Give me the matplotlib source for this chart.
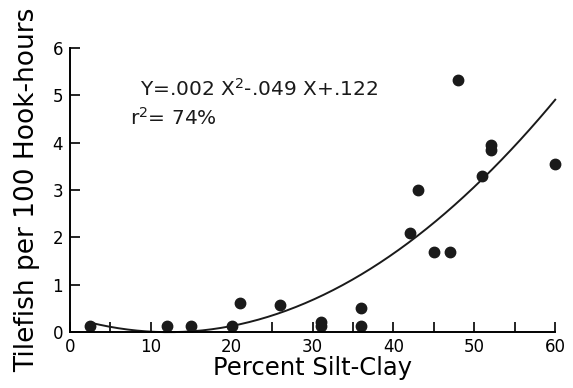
import numpy as np
from matplotlib import pyplot as plt

# percent silt-clay vs tilefish catch
silt_clay = [2.5, 12, 15, 20, 21, 26, 31, 31, 36, 36, 42, 43, 45, 47, 48, 51, 52, 52, 60]
catch = [0.12, 0.12, 0.12, 0.12, 0.62, 0.57, 0.21, 0.12, 0.5, 0.12,
         2.1, 3.0, 1.7, 1.7, 5.32, 3.3, 3.95, 3.84, 3.55]

# quadratic drawn on the figure
curve_coef = [0.00215, -0.0525, 0.32]
curve_range = [2.5, 60]

xticks = [0, 10, 20, 30, 40, 50, 60]
xticks_minor = [5, 15, 25, 35, 45, 55]
yticks = [0, 1, 2, 3, 4, 5, 6]

plt.rcParams["font.family"] = "DejaVu Sans"

fig = plt.figure(figsize=(5.73, 3.88), dpi=100)
ax = fig.add_axes([0.122, 0.144, 0.847, 0.732])

xc = np.linspace(curve_range[0], curve_range[1], 200)
ax.plot(xc, np.polyval(curve_coef, xc), color="#1a1a1a", lw=1.4, clip_on=False)
ax.plot(silt_clay, catch, "o", color="#1a1a1a", ms=7.5, clip_on=False)

ax.set_xlim(0, 60)
ax.set_ylim(0, 6)
ax.set_xticks(xticks)
ax.set_xticks(xticks_minor, minor=True)
ax.set_yticks(yticks)
ax.tick_params(direction="in", length=7, width=1.2, labelsize=12)
ax.tick_params(axis="x", pad=4)
ax.tick_params(axis="y", pad=5)
ax.tick_params(which="minor", direction="in", length=7, width=1.2)

for s in ["top", "right"]:
    ax.spines[s].set_visible(False)
for s in ["left", "bottom"]:
    ax.spines[s].set_linewidth(1.4)

ax.set_xlabel("Percent Silt-Clay", fontsize=17.5, labelpad=0)
ax.set_ylabel("Tilefish per 100 Hook-hours", fontsize=19, labelpad=9)

ax.text(8.7, 5.0, "Y=.002 X$^2$-.049 X+.122", fontsize=14.5, color="#1a1a1a",
        va="baseline")
ax.text(7.4, 4.39, "r$^2$= 74%", fontsize=14.5, color="#1a1a1a", va="baseline")

fig.savefig("out.png", dpi=100)
